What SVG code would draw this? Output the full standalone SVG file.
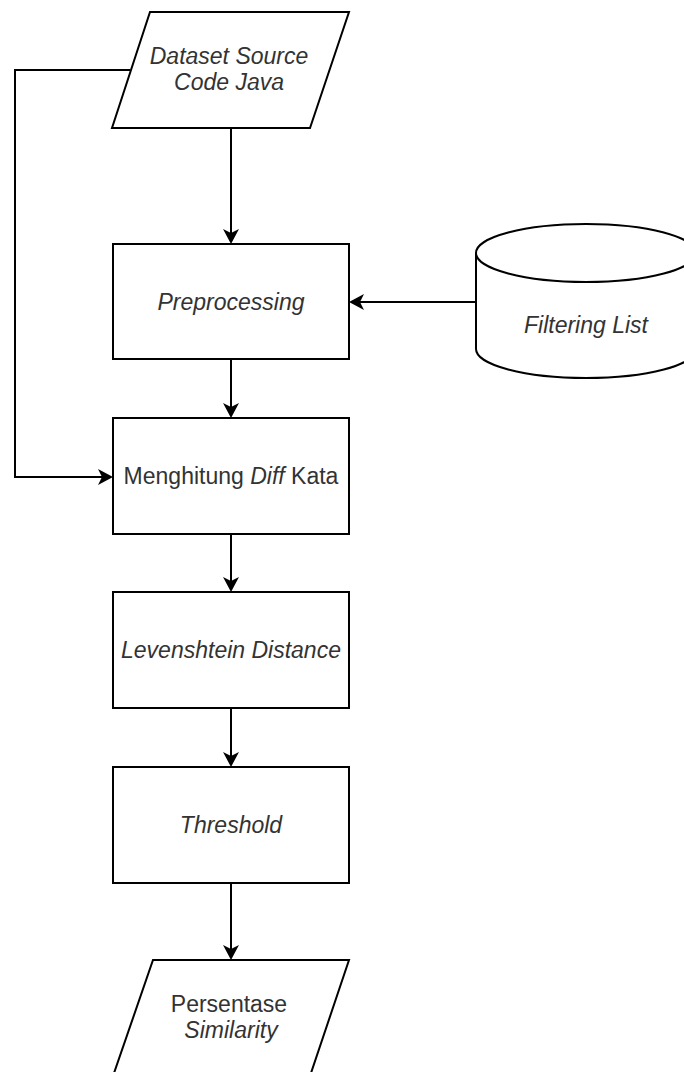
<svg xmlns="http://www.w3.org/2000/svg" width="684" height="1072" viewBox="0 0 684 1072">
  <style>
    .shape { fill: #ffffff; stroke: #000000; stroke-width: 2; }
    .edge { fill: none; stroke: #000000; stroke-width: 2; }
    .label { font-family: "Liberation Sans", Arial, sans-serif; font-size: 23px; fill: #333333; text-anchor: middle; }
    .it { font-style: italic; }
  </style>
  <defs>
    <marker id="arrow" markerUnits="userSpaceOnUse" viewBox="0 0 16 16" markerWidth="16" markerHeight="16" refX="11" refY="8" orient="auto">
      <path d="M0,0 L15,8 L0,16 L4,8 Z" fill="#000000"/>
    </marker>
  </defs>
  <rect width="684" height="1072" fill="#ffffff"/>

  <g id="connectors">
    <path class="edge" d="M231,128 L231,240" marker-end="url(#arrow)"/>
    <path class="edge" d="M130,70 L15,70 L15,477 L109,477" marker-end="url(#arrow)"/>
    <path class="edge" d="M476,302 L353,302" marker-end="url(#arrow)"/>
    <path class="edge" d="M231,359 L231,414" marker-end="url(#arrow)"/>
    <path class="edge" d="M231,534 L231,588" marker-end="url(#arrow)"/>
    <path class="edge" d="M231,708 L231,763" marker-end="url(#arrow)"/>
    <path class="edge" d="M231,883 L231,956" marker-end="url(#arrow)"/>
  </g>

  <g id="dataset">
    <path class="shape" d="M150,12 L349,12 L310,128 L112,128 Z"/>
    <text class="label it" x="229" y="64">Dataset Source</text>
    <text class="label it" x="229" y="90">Code Java</text>
  </g>

  <g id="preprocessing">
    <rect class="shape" x="113" y="244" width="236" height="115"/>
    <text class="label it" x="231" y="310">Preprocessing</text>
  </g>

  <g id="filtering">
    <path class="shape" d="M476,253 A110,29 0 0 1 696,253 L696,349 A110,29 0 0 1 476,349 Z"/>
    <path class="edge" d="M476,253 A110,29 0 0 0 696,253"/>
    <text class="label it" x="586" y="333">Filtering List</text>
  </g>

  <g id="menghitung">
    <rect class="shape" x="113" y="418" width="236" height="116"/>
    <text class="label" x="231" y="484">Menghitung <tspan class="it">Diff</tspan> Kata</text>
  </g>

  <g id="levenshtein">
    <rect class="shape" x="113" y="592" width="236" height="116"/>
    <text class="label it" x="231" y="658">Levenshtein Distance</text>
  </g>

  <g id="threshold">
    <rect class="shape" x="113" y="767" width="236" height="116"/>
    <text class="label it" x="231" y="833">Threshold</text>
  </g>

  <g id="persentase">
    <path class="shape" d="M153,960 L349,960 L310,1076 L113,1076 Z"/>
    <text class="label" x="229" y="1012">Persentase</text>
    <text class="label it" x="231" y="1038">Similarity</text>
  </g>
</svg>
